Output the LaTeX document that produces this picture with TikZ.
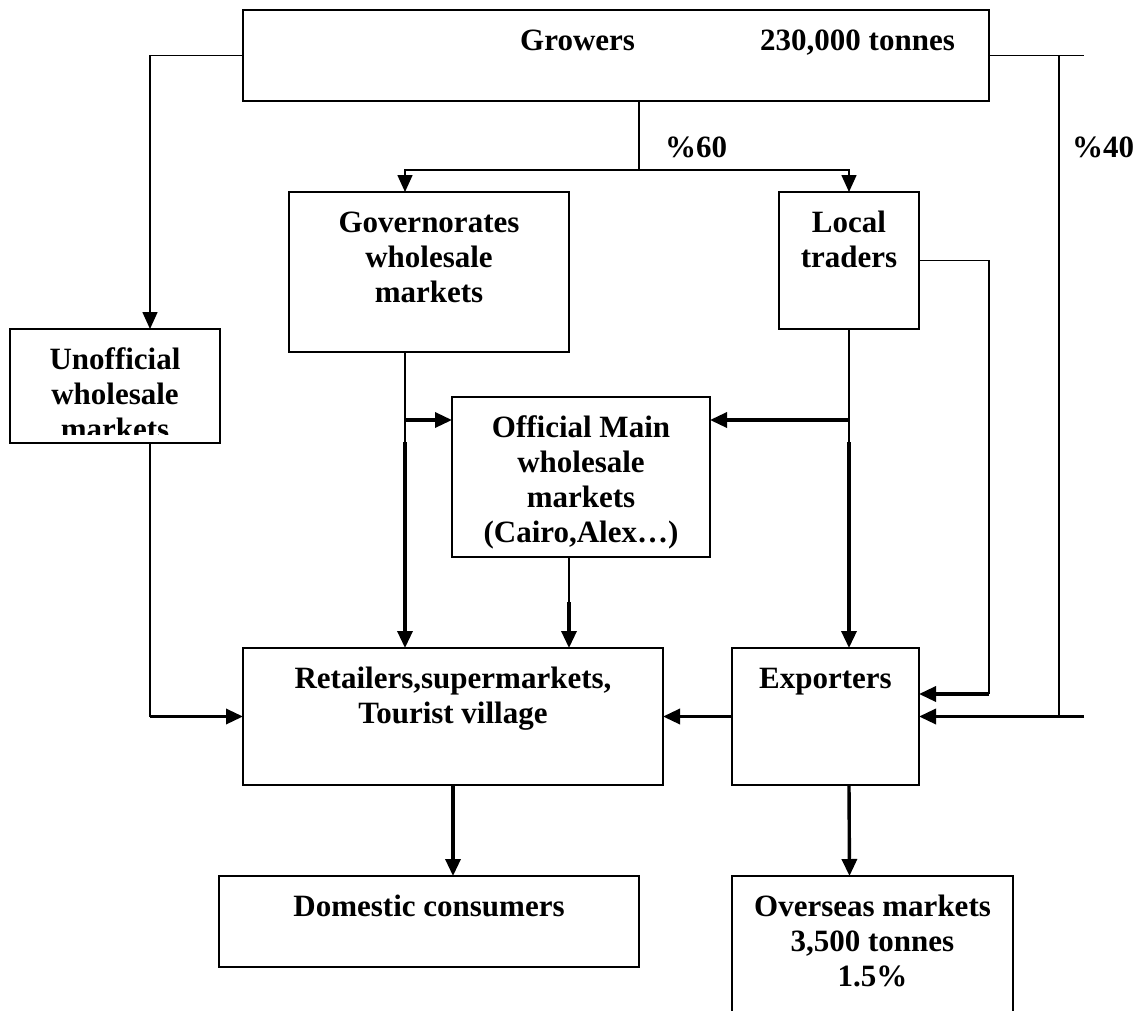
\documentclass[tikz,border=0pt]{standalone}
\usepackage{fontspec}
\setmainfont{Liberation Serif}
\usetikzlibrary{arrows.meta}
\begin{document}
\begin{tikzpicture}[x=1pt,y=-1pt,
  box/.style={draw, line width=1.8pt, rectangle, inner sep=0pt, outer sep=0pt, anchor=north west},
  txt/.style={font=\fontsize{31}{35}\selectfont\bfseries, align=center, inner sep=0pt, anchor=north},
  lbl/.style={font=\fontsize{31}{35}\selectfont\bfseries, inner sep=0pt, anchor=base west},
  thinline/.style={line width=1.6pt},
  thickline/.style={line width=3.4pt},
  arr/.style={-{Triangle[length=17pt,width=15pt]}},
]
\fill[white] (0,0) rectangle (1138,1010);
\useasboundingbox (0,0) rectangle (1138,1010);

% boxes
\node[box, minimum width=746pt, minimum height=91pt] (growers) at (243,10) {};
\node[box, minimum width=210pt, minimum height=114pt] (unofficial) at (10,329) {};
\node[box, minimum width=280pt, minimum height=160pt] (gov) at (289,192) {};
\node[box, minimum width=140pt, minimum height=137pt] (local) at (779,192) {};
\node[box, minimum width=258pt, minimum height=160pt] (official) at (452,397) {};
\node[box, minimum width=420pt, minimum height=137pt] (retailers) at (243,648) {};
\node[box, minimum width=187pt, minimum height=137pt] (exporters) at (732,648) {};
\node[box, minimum width=420pt, minimum height=91pt] (domestic) at (219,876) {};
\node[box, minimum width=281pt, minimum height=180pt] (overseas) at (732,876) {};

% texts
\node[lbl] (tgrow) at (520,50) {Growers};
\node[lbl] (ttons) at (760,50) {230,000 tonnes};
\node[lbl] (p60) at (665,157) {\%60};
\node[lbl] (p40) at (1072,157) {\%40};
\begin{scope}
  \clip (10,329) rectangle (220,434);
  \node[txt] (tunoff) at ([yshift=-15.5pt]unofficial.north) {\strut Unofficial\\wholesale\\markets};
\end{scope}
\node[txt] (tgov) at ([yshift=-15.5pt]gov.north) {\strut Governorates\\wholesale\\markets};
\node[txt] (tlocal) at ([yshift=-15.5pt]local.north) {\strut Local\\traders};
\node[txt] (toff) at ([yshift=-15.5pt]official.north) {\strut Official Main\\wholesale\\markets\\(Cairo,Alex\dots)};
\node[txt] (tret) at ([yshift=-15.5pt]retailers.north) {\strut Retailers,supermarkets,\\Tourist village};
\node[txt] (texp) at ([yshift=-15.5pt]exporters.north) {\strut Exporters};
\node[txt] (tdom) at ([yshift=-15.5pt]domestic.north) {\strut Domestic consumers};
\node[txt] (tover) at ([yshift=-15.5pt]overseas.north) {\strut Overseas markets\\3,500 tonnes\\1.5\%};

% helper coordinates
\coordinate (split) at (639,170);
\coordinate (gbr) at (405,420);
\coordinate (gtk) at (405,442);
\coordinate (lbr) at (849,420);
\coordinate (ltk) at (849,442);
\coordinate (otk) at (569,602);
\coordinate (uc) at (150,716.5);
\coordinate (lr) at (989,694);
\coordinate (r1) at (1084,55.5);
\coordinate (r2) at (1059,55.5);
\coordinate (r3) at (1059,716.5);
\coordinate (r4) at (1084,716.5);

% connectors
\draw[thinline, arr] (growers.west) -| ([xshift=35pt]unofficial.north);
\draw[thinline] ([xshift=23pt]growers.south) -- (split);
\draw[thinline, arr] (split) -| ([xshift=-24pt]gov.north);
\draw[thinline, arr] (split) -| (local.north);

\draw[thinline] ([xshift=-24pt]gov.south) -- (gtk);
\draw[thickline, arr] (gbr) -- ([yshift=57pt]official.west);
\draw[thickline, arr] (gtk) -- ([xshift=-48pt]retailers.north);

\draw[thinline] (local.south) -- (ltk);
\draw[thickline, arr] (lbr) -- ([yshift=57pt]official.east);
\draw[thickline, arr] (ltk) -- ([xshift=23.5pt]exporters.north);

\draw[thinline] ([xshift=-12pt]official.south) -- (otk);
\draw[thickline, arr] (otk) -- ([xshift=116pt]retailers.north);

\draw[thinline] ([xshift=35pt]unofficial.south) -- (uc);
\draw[thickline, arr] (uc) -- (retailers.west);

\draw[thickline, arr] (exporters.west) -- (retailers.east);

\draw[thinline] (local.east) -| (lr);
\draw[thickline, arr] (lr) -- ([yshift=22.5pt]exporters.east);

\draw[thinline] (growers.east) -- (r1);
\draw[thinline] (r2) -- (r3);
\draw[thickline, arr] (r4) -- (exporters.east);

\draw[thickline, arr] (retailers.south) -- ([xshift=24pt]domestic.north);
\draw[thickline, arr] ([xshift=23.5pt]exporters.south) -- ([xshift=-23pt]overseas.north);
\end{tikzpicture}
\end{document}
